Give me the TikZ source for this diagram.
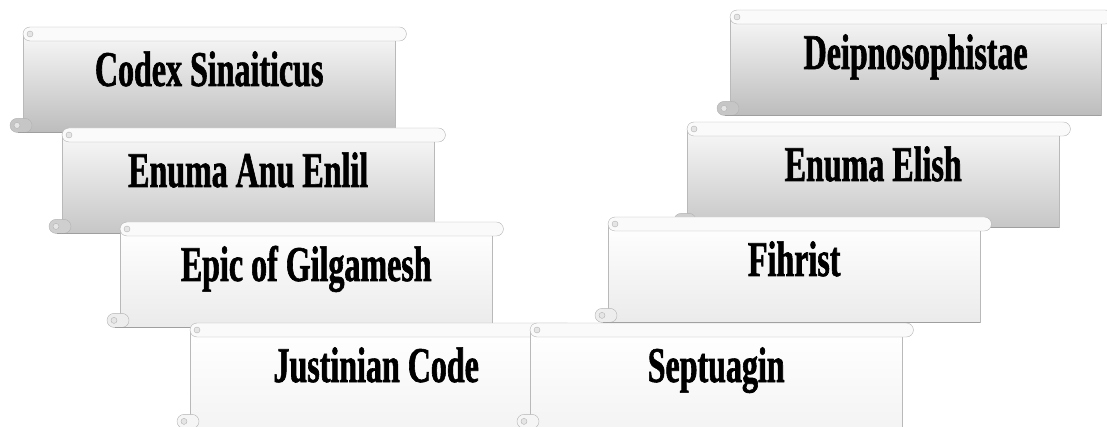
\documentclass[tikz,border=0pt]{standalone}
\usepackage{fontspec}
\newfontfamily\scrollfont{Liberation Serif}[FakeStretch=0.64,FakeBold=1.2]
\usetikzlibrary{positioning}
\tikzstyle{scrollbody}=[rectangle,draw=gray!55,anchor=north west,minimum width=372pt,minimum height=98pt,inner sep=0pt]
\tikzstyle{dark}=[top color=gray!6,bottom color=gray!52]
\tikzstyle{mid}=[top color=gray!6,bottom color=gray!44]
\tikzstyle{light}=[top color=white,bottom color=gray!16]
\tikzstyle{pale}=[top color=white,bottom color=gray!9]
\tikzstyle{roll}=[draw=gray!60,rounded corners=7pt]
\tikzstyle{curl}=[draw=gray!60,fill=gray!20]
\tikzstyle{title}=[font=\scrollfont\bfseries\fontsize{50}{54}\selectfont,anchor=base,inner sep=0pt]

% top roll, bottom curl and shadow of one scroll
\newcommand{\scrollrolls}[2]{%
  \draw[roll,fill=gray!4] ([yshift=7pt]#1.north west) rectangle ([xshift=11pt,yshift=-7pt]#1.north east);
  \draw[curl] ([xshift=7pt]#1.north west) circle (3pt);
  \draw[roll,fill=#2] ([xshift=-13pt,yshift=14pt]#1.south west) rectangle ([xshift=9pt]#1.south west);
  \draw[curl] ([xshift=-6pt,yshift=7pt]#1.south west) circle (3pt);
  \draw[gray!75,line width=1.4pt] ([xshift=-5pt]#1.south west) -- (#1.south east);
}

\begin{document}
\begin{tikzpicture}[x=1pt,y=-1pt]
\useasboundingbox (0,0) rectangle (1107,427);
% left stack
\node[scrollbody,dark] (codex) at (23,34) {};
\scrollrolls{codex}{gray!45}
\node[title] (codex-t) at ([yshift=-52pt]codex.north) {Codex Sinaiticus};
\node[scrollbody,mid] (anu) at (62,135) {};
\scrollrolls{anu}{gray!38}
\node[title] (anu-t) at ([yshift=-52pt]anu.north) {Enuma Anu Enlil};
\node[scrollbody,light] (epic) at (120,229) {};
\scrollrolls{epic}{gray!14}
\node[title] (epic-t) at ([yshift=-52pt]epic.north) {Epic of Gilgamesh};
\node[scrollbody,pale] (just) at (190,330) {};
\scrollrolls{just}{gray!8}
\node[title] (just-t) at ([yshift=-52pt]just.north) {Justinian Code};
% right stack
\node[scrollbody,dark,minimum width=371pt] (deip) at (730,17) {};
\scrollrolls{deip}{gray!45}
\node[title] (deip-t) at ([yshift=-52pt]deip.north) {Deipnosophistae};
\node[scrollbody,mid] (elish) at (687,129) {};
\scrollrolls{elish}{gray!38}
\node[title] (elish-t) at ([yshift=-52pt]elish.north) {Enuma Elish};
\node[scrollbody,light] (fihr) at (608,224) {};
\scrollrolls{fihr}{gray!14}
\node[title] (fihr-t) at ([yshift=-52pt]fihr.north) {Fihrist};
\node[scrollbody,pale] (sept) at (530,330) {};
\scrollrolls{sept}{gray!8}
\node[title] (sept-t) at ([yshift=-52pt]sept.north) {Septuagin};
\end{tikzpicture}
\end{document}
